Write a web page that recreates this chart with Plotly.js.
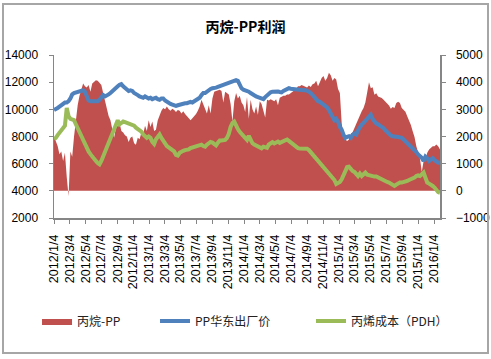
<!DOCTYPE html>
<html>
<head>
<meta charset="utf-8">
<script src="https://cdn.plot.ly/plotly-3.0.1.min.js"></script>
<style>
html,body{margin:0;padding:0;background:#fff;}
#chart{width:491px;height:359px;position:absolute;left:0;top:0;}
#frame{position:absolute;left:2px;top:3px;width:483px;height:347px;border:2px solid #a6a6a6;pointer-events:none;}
</style>
</head>
<body>
<div id="chart"></div>
<div id="frame"></div>
<script>
// weekly series starting 2012-01-04
var startDate = '2012-01-04';
var stepDays = 7;

// 丙烷-PP profit (right axis)
var profit = [
2000,1800,1650,1350,1450,1100,1400,500,-200,1450,
1250,2000,2650,3150,3500,3700,3950,3850,3800,3900,
3650,3950,4000,4075,4050,3975,3900,3600,3300,3000,
2750,2600,2300,1950,2300,2400,2500,2200,2150,2050,
2000,1800,1950,2000,1750,1700,1950,1900,2150,2100,
2400,2200,2600,
2350,2550,2200,2250,2600,2800,2950,3050,3000,3100,
3000,2950,3025,2975,2900,2975,2950,2850,2925,2825,
2750,2700,2600,2675,2750,2825,2950,3100,3350,3200,
3000,2850,3150,2850,3400,3650,3675,3700,3725,3675,
3250,3650,3600,3550,3200,2550,3300,3600,3400,3500,
3250,3150,2900,
3450,2650,3350,3000,2850,3100,2800,3300,3200,2950,
2700,3350,3325,3375,3350,3300,3375,3150,3425,3475,
3500,3500,3550,3550,3600,3650,3700,3750,3850,3850,
3900,3875,3850,3800,3875,3825,3925,3950,4050,3850,
4000,4150,4225,4050,4150,4350,4250,4050,4150,4100,
3750,3600,
2500,2000,1890,1830,1890,2095,2155,2315,2475,2645,
2780,2925,3050,3255,3620,4000,3780,3815,3535,3595,
3475,3450,3415,3350,3290,3230,3145,3025,3085,3050,
3230,3280,3230,3050,2985,2915,2745,2600,2425,2195,
1985,1645,1425,1180,700,1100,1155,1400,1525,1585,
1645,1645,1705,1645,1525
];

// PP华东出厂价 (left axis)
var ppPrice = [
9950,10000,10100,10200,10300,10400,10500,10500,10600,10800,
11100,11200,11250,11300,11300,11350,11400,11300,10900,10650,
10600,10600,10600,10550,10600,10700,10950,11050,10950,11000,
11100,11200,11350,11450,11550,11700,11800,11850,11700,11550,
11450,11350,11400,11350,11200,11150,11050,10950,10900,10850,
10950,10900,10800,
10850,10750,10800,10850,10750,10700,10800,10800,10650,10550,
10450,10400,10350,10300,10250,10300,10350,10350,10400,10450,
10450,10500,10550,10500,10600,10650,10750,10850,11050,11200,
11200,11300,11450,11500,11550,11550,11600,11650,11700,11700,
11750,11800,11850,11900,11950,12050,12100,12150,12100,11750,
11550,11450,11400,
11400,11300,11200,11100,11000,10950,10900,10850,10800,10750,
10900,11050,11150,11250,11300,11320,11300,11320,11280,11250,
11350,11440,11520,11560,11520,11500,11450,11420,11400,11400,
11420,11400,11420,11380,11300,11200,11050,10800,10700,10600,
10550,10450,10400,10300,10150,9950,9650,9350,9200,9300,
9100,8700,
8510,8140,7900,7970,8020,7900,8140,8220,8140,8460,
8700,8880,9000,9140,9290,9490,9610,9290,9050,8950,
8900,8800,8760,8610,8460,8310,8140,8070,8020,8020,
7970,7970,7920,7900,7780,7660,7460,7360,7220,7120,
7050,6850,6680,6560,6440,6190,6510,6390,6190,6310,
6410,6260,6140,6070,6070
];

// 丙烯成本（PDH） (left axis)
var propyleneCost = [
7800,7900,8100,8300,8450,8600,8800,10100,9500,9300,
9250,9200,8900,8600,8300,8000,7700,7400,7150,6900,
6700,6500,6350,6200,6050,5950,6200,6550,6900,7200,
7500,7800,8200,8550,8900,9200,8900,9000,9100,9050,
9000,8950,8880,8880,8800,8650,8550,8500,8350,8150,
8000,7900,8000,
7900,7600,7450,7800,8000,8150,7900,7700,7450,7300,
7200,7100,7050,6900,6650,6600,6800,6900,6950,7000,
7000,7050,7150,7200,7250,7300,7300,7350,7400,7300,
7250,7400,7500,7600,7550,7450,7350,7550,7700,7700,
7750,7750,7900,8200,8700,9000,9100,8750,8550,8350,
8200,8100,7900,
7750,8050,7700,7500,7400,7350,7250,7200,7130,7250,
7220,7170,7410,7530,7580,7490,7580,7630,7530,7600,
7630,7680,7780,7680,7580,7460,7290,7190,7140,7120,
7100,7120,7120,7100,7000,6850,6680,6440,6310,6170,
6020,5880,5780,5630,5480,5340,5140,4970,4800,4500,
4550,4650,
4850,5220,5530,5750,5780,5580,5460,5390,5220,5090,
5270,5090,5220,5340,5190,5140,5090,5090,5050,5050,
4970,4920,4850,4800,4730,4650,4610,4530,4460,4360,
4460,4560,4610,4610,4630,4650,4730,4800,4850,4920,
4970,5090,5140,5090,5220,5340,4970,4610,4530,4480,
4360,4240,4050,3900,3850
];

var tickVals = ['2012-01-04','2012-03-04','2012-05-04','2012-07-04','2012-09-04','2012-11-04',
'2013-01-04','2013-03-04','2013-05-04','2013-07-04','2013-09-04','2013-11-04',
'2014-01-04','2014-03-04','2014-05-04','2014-07-04','2014-09-04','2014-11-04',
'2015-01-04','2015-03-04','2015-05-04','2015-07-04','2015-09-04','2015-11-04','2016-01-04'];
var tickText = ['2012/1/4','2012/3/4','2012/5/4','2012/7/4','2012/9/4','2012/11/4',
'2013/1/4','2013/3/4','2013/5/4','2013/7/4','2013/9/4','2013/11/4',
'2014/1/4','2014/3/4','2014/5/4','2014/7/4','2014/9/4','2014/11/4',
'2015/1/4','2015/3/4','2015/5/4','2015/7/4','2015/9/4','2015/11/4','2016/1/4'];

var seriesNames = ['丙烷-PP', 'PP华东出厂价', '丙烯成本（PDH）'];

var dates = [];
var t0 = Date.parse(startDate + 'T00:00:00Z');
for (var i = 0; i < profit.length; i++) {
  dates.push(new Date(t0 + i * stepDays * 86400000).toISOString().slice(0, 10));
}

var RED = '#C0504D', BLUE = '#4F81BD', GREEN = '#9BBB59';
var axisGrey = '#868686';
var tickFont = {family: 'Liberation Sans, Arial, sans-serif', size: 12, color: '#000'};
var xTickFont = {family: 'Liberation Sans, Arial, sans-serif', size: 12.5, color: '#000'};
var legFont = {family: 'Noto Sans CJK SC, sans-serif', size: 12, color: '#222'};

var traces = [
  {x: dates, y: profit, name: seriesNames[0], type: 'scatter', mode: 'lines',
   yaxis: 'y2', fill: 'tozeroy', fillcolor: RED, line: {width: 0, color: RED},
   legend: 'legend', hoverinfo: 'skip'},
  {x: dates, y: ppPrice, name: seriesNames[1], type: 'scatter', mode: 'lines',
   yaxis: 'y', line: {width: 4, color: BLUE}, legend: 'legend2', hoverinfo: 'skip'},
  {x: dates, y: propyleneCost, name: seriesNames[2], type: 'scatter', mode: 'lines',
   yaxis: 'y', line: {width: 4, color: GREEN}, legend: 'legend3', hoverinfo: 'skip'}
];

var legY = -0.632;
var layout = {
  width: 491, height: 359,
  margin: {l: 54, r: 51, t: 55, b: 141, pad: 0},
  paper_bgcolor: '#fff', plot_bgcolor: '#fff',
  title: {text: '<b>丙烷-PP利润</b>', xref: 'container', x: 0.5, xanchor: 'center',
          yref: 'container', y: 1 - 27/359, yanchor: 'middle',
          font: {family: 'Noto Sans CJK SC, sans-serif', size: 14, color: '#000'}},
  xaxis: {type: 'date', range: ['2012-01-04', '2016-01-27'],
          tickmode: 'array', tickvals: tickVals, ticktext: tickText, tickangle: -90,
          ticks: 'outside', ticklen: 4, tickcolor: axisGrey, tickwidth: 1,
          showline: true, linecolor: axisGrey, linewidth: 1.5, showgrid: false, zeroline: false,
          tickfont: xTickFont, ticklabelstandoff: 6, automargin: false, fixedrange: true},
  yaxis: {range: [2000, 14000], tick0: 2000, dtick: 2000, tickformat: 'd', side: 'left', overlaying: 'y2',
          ticks: 'outside', ticklen: 4, tickcolor: axisGrey, showline: true, linecolor: axisGrey,
          linewidth: 1.5, showgrid: false, zeroline: false, tickfont: tickFont,
          ticklabelstandoff: 8, automargin: false, fixedrange: true},
  yaxis2: {range: [-1000, 5000], tick0: -1000, dtick: 1000, tickformat: 'd', side: 'right',
          ticks: 'outside', ticklen: 4, tickcolor: axisGrey, showline: true, linecolor: axisGrey,
          linewidth: 1.5, showgrid: false, zeroline: false, tickfont: tickFont,
          ticklabelstandoff: 8, automargin: false, fixedrange: true},
  showlegend: true,
  legend: {x: -0.044, y: legY, xanchor: 'left', yanchor: 'middle', orientation: 'h',
           font: legFont, bgcolor: 'rgba(0,0,0,0)'},
  legend2: {x: 0.2617, y: legY, xanchor: 'left', yanchor: 'middle', orientation: 'h',
           font: legFont, bgcolor: 'rgba(0,0,0,0)'},
  legend3: {x: 0.6658, y: legY, xanchor: 'left', yanchor: 'middle', orientation: 'h',
           font: legFont, bgcolor: 'rgba(0,0,0,0)'}
};

Plotly.newPlot('chart', traces, layout, {staticPlot: true, displayModeBar: false});
</script>
</body>
</html>
